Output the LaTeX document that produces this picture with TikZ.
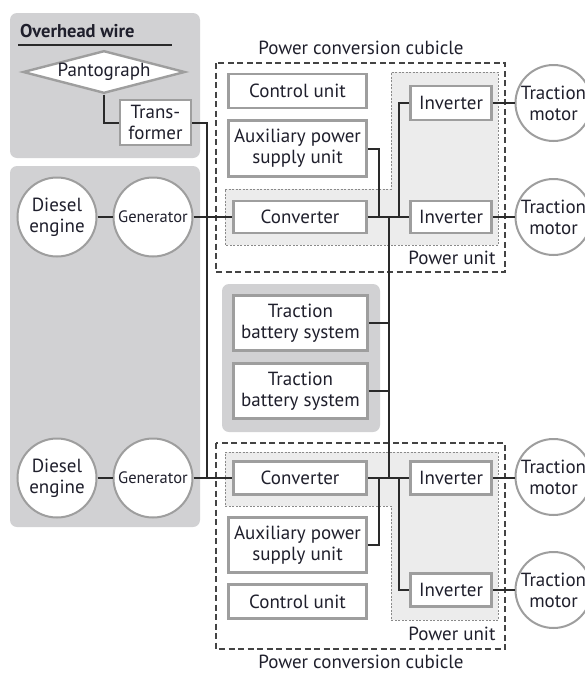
\documentclass[tikz,border=0pt]{standalone}
\usepackage{fontspec}
\setmainfont{PT Sans}
\usetikzlibrary{shapes.geometric}
\definecolor{panelgray}{HTML}{D1D1D3}
\definecolor{pufill}{HTML}{ECECEC}
\definecolor{boxgray}{HTML}{9E9E9E}
\definecolor{wirec}{HTML}{2A2A2A}
\definecolor{txt}{HTML}{1F1F2C}
\definecolor{dashc}{HTML}{444444}
\definecolor{dotc}{HTML}{8A8A8A}
\newcommand{\mainfs}{\fontsize{19}{21}\selectfont}
\newcommand{\smallfs}{\fontsize{16.5}{19}\selectfont}
\newcommand{\titlefs}{\fontsize{18.5}{21}\selectfont\bfseries}
\begin{document}
\begin{tikzpicture}[x=1pt,y=-1pt,
  panel/.style={fill=panelgray, draw=none, rounded corners=7pt},
  pu/.style={fill=pufill, draw=dotc, line width=0.8pt, dash pattern=on 2pt off 1.5pt},
  cubicle/.style={draw=dashc, line width=1.3pt, dash pattern=on 6pt off 3.5pt},
  box/.style={draw=boxgray, line width=2.8pt, fill=white, align=center, inner sep=0pt, text=txt, font=\mainfs},
  circ/.style={circle, draw=boxgray, line width=2pt, fill=white, minimum size=79pt, inner sep=0pt, align=center, text=txt, font=\mainfs},
  wire/.style={draw=wirec, line width=2pt},
  lbl/.style={text=txt, font=\mainfs, inner sep=0pt}]
\useasboundingbox (0,0) rectangle (585,675);
% panels
\path[panel] (10,13) rectangle (200,158);
\path[panel] (10,166) rectangle (200,527);
\path[panel] (222,284) rectangle (380,432);
% power units
\path[pu] (225,189) -- (391,189) -- (391,72) -- (498,72) -- (498,245) -- (225,245) -- cycle;
\path[pu] (225,452) -- (498,452) -- (498,620) -- (391,620) -- (391,506) -- (225,506) -- cycle;
% cubicles
\draw[cubicle] (216,63) rectangle (505,272);
\draw[cubicle] (216,443) rectangle (505,649);
% labels
\node[lbl, anchor=west, font=\titlefs] (ow) at (20,31) {Overhead wire};
\draw[wirec, line width=1.2pt] (18,45) -- (172,45);
\node[lbl] (pc1) at (361,48) {Power conversion cubicle};
\node[lbl] (pc2) at (361,662) {Power conversion cubicle};
\node[lbl] (pu1) at (452,258) {Power unit};
\node[lbl] (pu2) at (452,634) {Power unit};
% nodes
\node[diamond, draw=boxgray, line width=2.4pt, fill=white, inner sep=0pt, aspect=3.7, minimum width=162pt, minimum height=42pt, text=txt, font=\mainfs] (panto) at (104,72) {Pantograph};
\node[box, minimum width=71pt, minimum height=45pt] (trans) at (155.5,122.5) {Trans-\\former};
\node[circ] (die1) at (57,217) {Diesel\\engine};
\node[circ, font=\smallfs] (gen1) at (153,217) {Generator};
\node[circ] (die2) at (57,478) {Diesel\\engine};
\node[circ, font=\smallfs] (gen2) at (153,478) {Generator};
% upper cubicle
\node[box, minimum width=138pt, minimum height=34pt] (ctl1) at (297.5,91) {Control unit};
\node[box, minimum width=138pt, minimum height=56pt] (aux1) at (297.5,148.5) {Auxiliary power\\supply unit};
\node[box, minimum width=133pt, minimum height=32pt] (conv1) at (300,217) {Converter};
\node[box, minimum width=81pt, minimum height=34pt] (inv1) at (451,103) {Inverter};
\node[box, minimum width=81pt, minimum height=32pt] (inv2) at (451,217) {Inverter};
\node[circ, minimum size=76pt] (mot1) at (553.5,103) {Traction\\motor};
\node[circ, minimum size=76pt] (mot2) at (553.5,217) {Traction\\motor};
% batteries
\node[box, minimum width=134pt, minimum height=55pt] (bat1) at (300.5,323) {Traction\\battery system};
\node[box, minimum width=134pt, minimum height=55pt] (bat2) at (300.5,391) {Traction\\battery system};
% lower cubicle
\node[box, minimum width=133pt, minimum height=33pt] (conv2) at (300,478) {Converter};
\node[box, minimum width=81pt, minimum height=33pt] (inv3) at (451,478) {Inverter};
\node[box, minimum width=81pt, minimum height=33pt] (inv4) at (451,590) {Inverter};
\node[box, minimum width=138pt, minimum height=55pt] (aux2) at (297.5,545) {Auxiliary power\\supply unit};
\node[box, minimum width=138pt, minimum height=34pt] (ctl2) at (297.5,601.5) {Control unit};
\node[circ, minimum size=76pt] (mot3) at (553.5,477) {Traction\\motor};
\node[circ, minimum size=76pt] (mot4) at (553.5,590) {Traction\\motor};
% junction coordinates
\coordinate (busL) at (207,478);
\coordinate (ja1) at (379,217);
\coordinate (ji1) at (399,217);
\coordinate (bt) at (389,217);
\coordinate (bb) at (389,478);
\coordinate (ja2) at (379,478);
\coordinate (ji2) at (399,478);
% wires
\draw[wire] (panto.south) |- (trans.west);
\draw[wire] (trans.east) -| (busL) -- (conv2.west);
\draw[wire] (die1) -- (gen1);
\draw[wire] (die2) -- (gen2);
\draw[wire] (gen1) -- (conv1);
\draw[wire] (gen2) -- (busL);
\draw[wire] (conv1) -- (inv2);
\draw[wire] (aux1.east) -| (ja1);
\draw[wire] (ji1) |- (inv1.west);
\draw[wire] (bt) -- (bb);
\draw[wire] (bat1.east) -- (bat1.east -| bt);
\draw[wire] (bat2.east) -- (bat2.east -| bt);
\draw[wire] (conv2) -- (inv3);
\draw[wire] (aux2.east) -| (ja2);
\draw[wire] (ji2) |- (inv4.west);
\draw[wire] (inv1) -- (mot1);
\draw[wire] (inv2) -- (mot2);
\draw[wire] (inv3.east) -- (inv3.east -| mot3.west);
\draw[wire] (inv4) -- (mot4);
\end{tikzpicture}
\end{document}
